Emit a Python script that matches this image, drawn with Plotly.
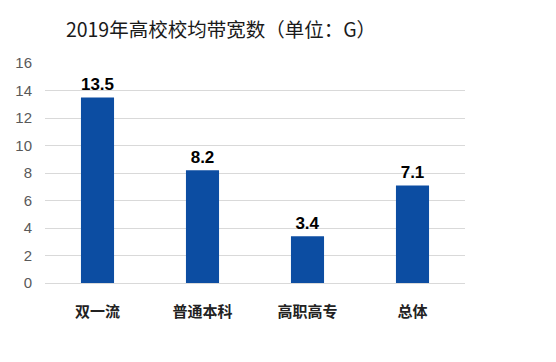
import plotly.graph_objects as go

categories = ["双一流", "普通本科", "高职高专", "总体"]
values = [13.5, 8.2, 3.4, 7.1]
y_ticks = [0, 2, 4, 6, 8, 10, 12, 14, 16]

font_cjk = "Noto Sans CJK SC, Microsoft YaHei, sans-serif"

fig = go.Figure(
    go.Bar(
        x=categories,
        y=values,
        marker=dict(color="#0C4DA2", line=dict(width=0)),
        text=[f"{v:.1f}" for v in values],
        textposition="outside",
        textfont=dict(family="Liberation Sans, Arial, sans-serif", size=17, color="#000000", weight="bold"),
        cliponaxis=False,
    )
)

fig.update_layout(
    width=556,
    height=362,
    margin=dict(l=45, r=91, t=63, b=79),
    paper_bgcolor="white",
    plot_bgcolor="white",
    bargap=0.685,
    showlegend=False,
    title=dict(
        text="2019年高校校均带宽数（单位：G）",
        x=221 / 556,
        xanchor="center",
        xref="container",
        y=1 - 30 / 362,
        yanchor="middle",
        yref="container",
        font=dict(family=font_cjk, size=19.5, color="#1a1a1a"),
    ),
    xaxis=dict(
        showgrid=False,
        showline=False,
        ticks="",
        tickfont=dict(family=font_cjk, size=15, color="#222222", weight="bold"),
        ticklabelstandoff=18,
    ),
    yaxis=dict(
        range=[0, 16],
        tickvals=y_ticks,
        showgrid=True,
        gridcolor="#D9D9D9",
        gridwidth=1,
        zeroline=True,
        zerolinecolor="#D9D9D9",
        zerolinewidth=1,
        showline=False,
        ticks="",
        tickfont=dict(family="Liberation Sans, Arial, sans-serif", size=15, color="#595959"),
        ticklabelstandoff=12,
    ),
)

fig.write_html("out.html")
